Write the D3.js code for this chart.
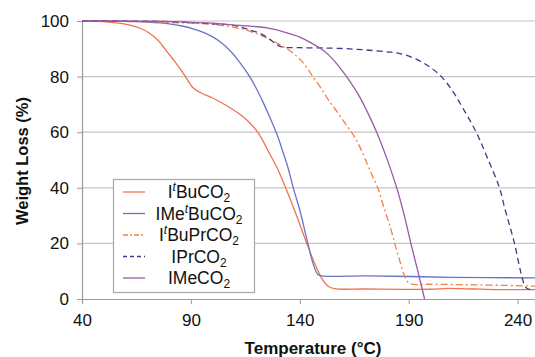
<!DOCTYPE html>
<html>
<head>
<meta charset="utf-8">
<script src="https://cdn.jsdelivr.net/npm/d3@7"></script>
<style>
  body { margin: 0; background: #fff; }
  text { font-family: "Liberation Sans", Arial, sans-serif; fill: #111; }
</style>
</head>
<body>
<svg id="chart" width="535" height="357"></svg>
<script>
'use strict';

// Series data: temperature (°C) and weight (%)
const tBuT = [40, 50, 57, 62, 67, 71, 75, 79, 83, 87.5, 91, 95, 100, 104, 108, 112, 115.7, 120.7, 126, 130, 133.5, 138.5, 143.2, 147, 150.6, 153, 156, 170, 200, 208, 214, 220, 230, 248];
const tBuW = [100, 99.8, 99.2, 98.5, 97.3, 95.6, 93, 89, 85, 80, 76, 74, 72.3, 70.6, 68.8, 66.7, 64.4, 60, 52.5, 46.5, 40, 30, 20, 12.5, 6.8, 4.6, 3.7, 3.6, 3.5, 3.8, 3.7, 3.6, 3.4, 3.4];

const meTBuT = [40, 60, 70, 80, 86, 91, 96, 100, 104, 108, 112, 117, 120, 123, 126, 129.4, 132, 134.5, 137, 140, 143.7, 146, 148.3, 150, 170, 190, 210, 248];
const meTBuW = [100, 99.9, 99.6, 99, 98.2, 97.2, 95.8, 94.3, 92.2, 89.3, 85.6, 80, 75.8, 71, 65.8, 59.5, 53.5, 47.5, 40, 32, 20, 13, 8.8, 8.3, 8.3, 8.1, 7.8, 7.6];

const tBuPrT = [40, 70, 90, 100, 108, 115, 120, 126, 132, 136, 140, 143, 146, 150, 153, 157, 161, 165, 168, 171, 173.5, 175.8, 179, 181.5, 183.6, 186, 188, 189.5, 191, 200, 220, 240, 248];
const tBuPrW = [100, 99.7, 99.2, 98.8, 98, 96.8, 95.5, 93.5, 91, 89, 86.3, 83.5, 80, 75.5, 71.8, 67.5, 63, 58.5, 54, 48.5, 44, 40, 32, 26, 20, 13.5, 8.5, 6.2, 5.4, 5.3, 5.1, 4.8, 4.6];

const prT = [40, 80, 100, 108, 113, 118, 122, 126, 129.5, 132, 140, 150, 160, 170, 180, 186, 193.7, 199.6, 205, 210, 215, 221, 226, 231.7, 234, 236.5, 238.6, 240.5, 242, 243.5, 245, 248];
const prW = [100, 99.8, 99, 98.6, 97.8, 96.5, 95.5, 93.5, 91.5, 90.6, 90.4, 90.3, 90.1, 89.6, 88.9, 88.3, 86.2, 83.5, 80, 75, 68.5, 60, 51, 40, 33, 26, 20, 13, 8, 4.5, 3.6, 3.5];

const meT = [40, 80, 100, 109, 125, 133, 140, 145, 149.2, 153, 157, 161.5, 164.5, 167.5, 171.5, 175.3, 180, 184.5, 188, 191, 194.2, 197.3];
const meW = [100, 99.8, 99.2, 98.6, 97.5, 96, 94.2, 92.2, 90.3, 88, 84.6, 80, 76.5, 72.7, 66.5, 60, 50.5, 40, 30, 20, 10, 0];

const xTicks = [40, 90, 140, 190, 240];
const yTicks = [0, 20, 40, 60, 80, 100];

const series = [
  { name: ['I', 't', 'BuCO', '2'], t: tBuT, w: tBuW, color: '#f2714f', dash: null, legDash: null },
  { name: ['IMe', 't', 'BuCO', '2'], t: meTBuT, w: meTBuW, color: '#6a74c4', dash: null, legDash: null },
  { name: ['I', 't', 'BuPrCO', '2'], t: tBuPrT, w: tBuPrW, color: '#f3803f', dash: '7,3,2,3', legDash: '5,2,2,2' },
  { name: ['IPrCO', '2'], t: prT, w: prW, color: '#3a3a8c', dash: '6,4', legDash: '4,3' },
  { name: ['IMeCO', '2'], t: meT, w: meW, color: '#9a5aa6', dash: null, legDash: null }
];

const svg = d3.select('#chart');
const plotL = 82, plotR = 535, plotT = 21, plotB = 299;

const x = d3.scaleLinear().domain([40, 248]).range([plotL, plotR]);
const y = d3.scaleLinear().domain([0, 100]).range([plotB, plotT]);

// Grid lines
svg.append('g')
  .selectAll('line')
  .data(yTicks.filter(d => d > 0))
  .join('line')
  .attr('x1', plotL).attr('x2', plotR)
  .attr('y1', d => y(d)).attr('y2', d => y(d))
  .attr('stroke', '#c4c4c4')
  .attr('stroke-width', 1.2);

// Axes
const xAxis = d3.axisBottom(x).tickValues(xTicks).tickSize(5).tickPadding(10).tickFormat(d3.format('d'));
const gx = svg.append('g')
  .attr('transform', 'translate(0,' + plotB + ')')
  .call(xAxis);
gx.select('.domain').attr('stroke', '#9a9a9a').attr('stroke-width', 1.2);
gx.selectAll('.tick line').attr('stroke', '#9a9a9a');
gx.selectAll('.tick text').attr('font-size', '17px').attr('fill', '#111')
  .attr('font-family', '"Liberation Sans", Arial, sans-serif');

const yAxis = d3.axisLeft(y).tickValues(yTicks).tickSize(5).tickPadding(8).tickFormat(d3.format('d'));
const gy = svg.append('g')
  .attr('transform', 'translate(' + plotL + ',0)')
  .call(yAxis);
gy.select('.domain').attr('stroke', '#9a9a9a').attr('stroke-width', 1.2);
gy.selectAll('.tick line').attr('stroke', '#9a9a9a');
gy.selectAll('.tick text').attr('font-size', '17px').attr('fill', '#111')
  .attr('font-family', '"Liberation Sans", Arial, sans-serif');

// Axis titles
svg.append('text')
  .attr('x', 313).attr('y', 354)
  .attr('text-anchor', 'middle')
  .attr('font-size', '17px').attr('font-weight', 'bold')
  .text('Temperature (°C)');

svg.append('text')
  .attr('transform', 'translate(28,161) rotate(-90)')
  .attr('text-anchor', 'middle')
  .attr('font-size', '16.5px').attr('font-weight', 'bold')
  .text('Weight Loss (%)');

// Curves
const line = d3.line()
  .x(d => x(d[0]))
  .y(d => y(d[1]))
  .curve(d3.curveCatmullRom.alpha(0.5));

svg.append('g')
  .selectAll('path')
  .data(series)
  .join('path')
  .attr('d', s => line(s.t.map((t, i) => [t, s.w[i]])))
  .attr('fill', 'none')
  .attr('stroke', s => s.color)
  .attr('stroke-width', 1.3)
  .attr('stroke-dasharray', s => s.dash);

// Legend
const lg = svg.append('g');
lg.append('rect')
  .attr('x', 113.5).attr('y', 179.5)
  .attr('width', 141).attr('height', 113)
  .attr('fill', '#fff')
  .attr('stroke', '#a8a8a8')
  .attr('stroke-width', 1.2);

series.forEach((s, i) => {
  const cy = 192 + i * 21.5;
  lg.append('line')
    .attr('x1', 123).attr('x2', 145)
    .attr('y1', cy).attr('y2', cy)
    .attr('stroke', s.color)
    .attr('stroke-width', 1.3)
    .attr('stroke-dasharray', s.legDash);

  const txt = lg.append('text')
    .attr('x', 199).attr('y', cy + 6)
    .attr('text-anchor', 'middle')
    .attr('font-size', '17.5px');
  if (s.name.length === 4) {
    txt.append('tspan').text(s.name[0]);
    txt.append('tspan').attr('font-style', 'italic').attr('font-size', '12px').attr('dy', -7).text(s.name[1]);
    txt.append('tspan').attr('dy', 7).text(s.name[2]);
    txt.append('tspan').attr('font-size', '12px').attr('dy', 4).text(s.name[3]);
  } else {
    txt.append('tspan').text(s.name[0]);
    txt.append('tspan').attr('font-size', '12px').attr('dy', 4).text(s.name[1]);
  }
});
</script>
</body>
</html>
